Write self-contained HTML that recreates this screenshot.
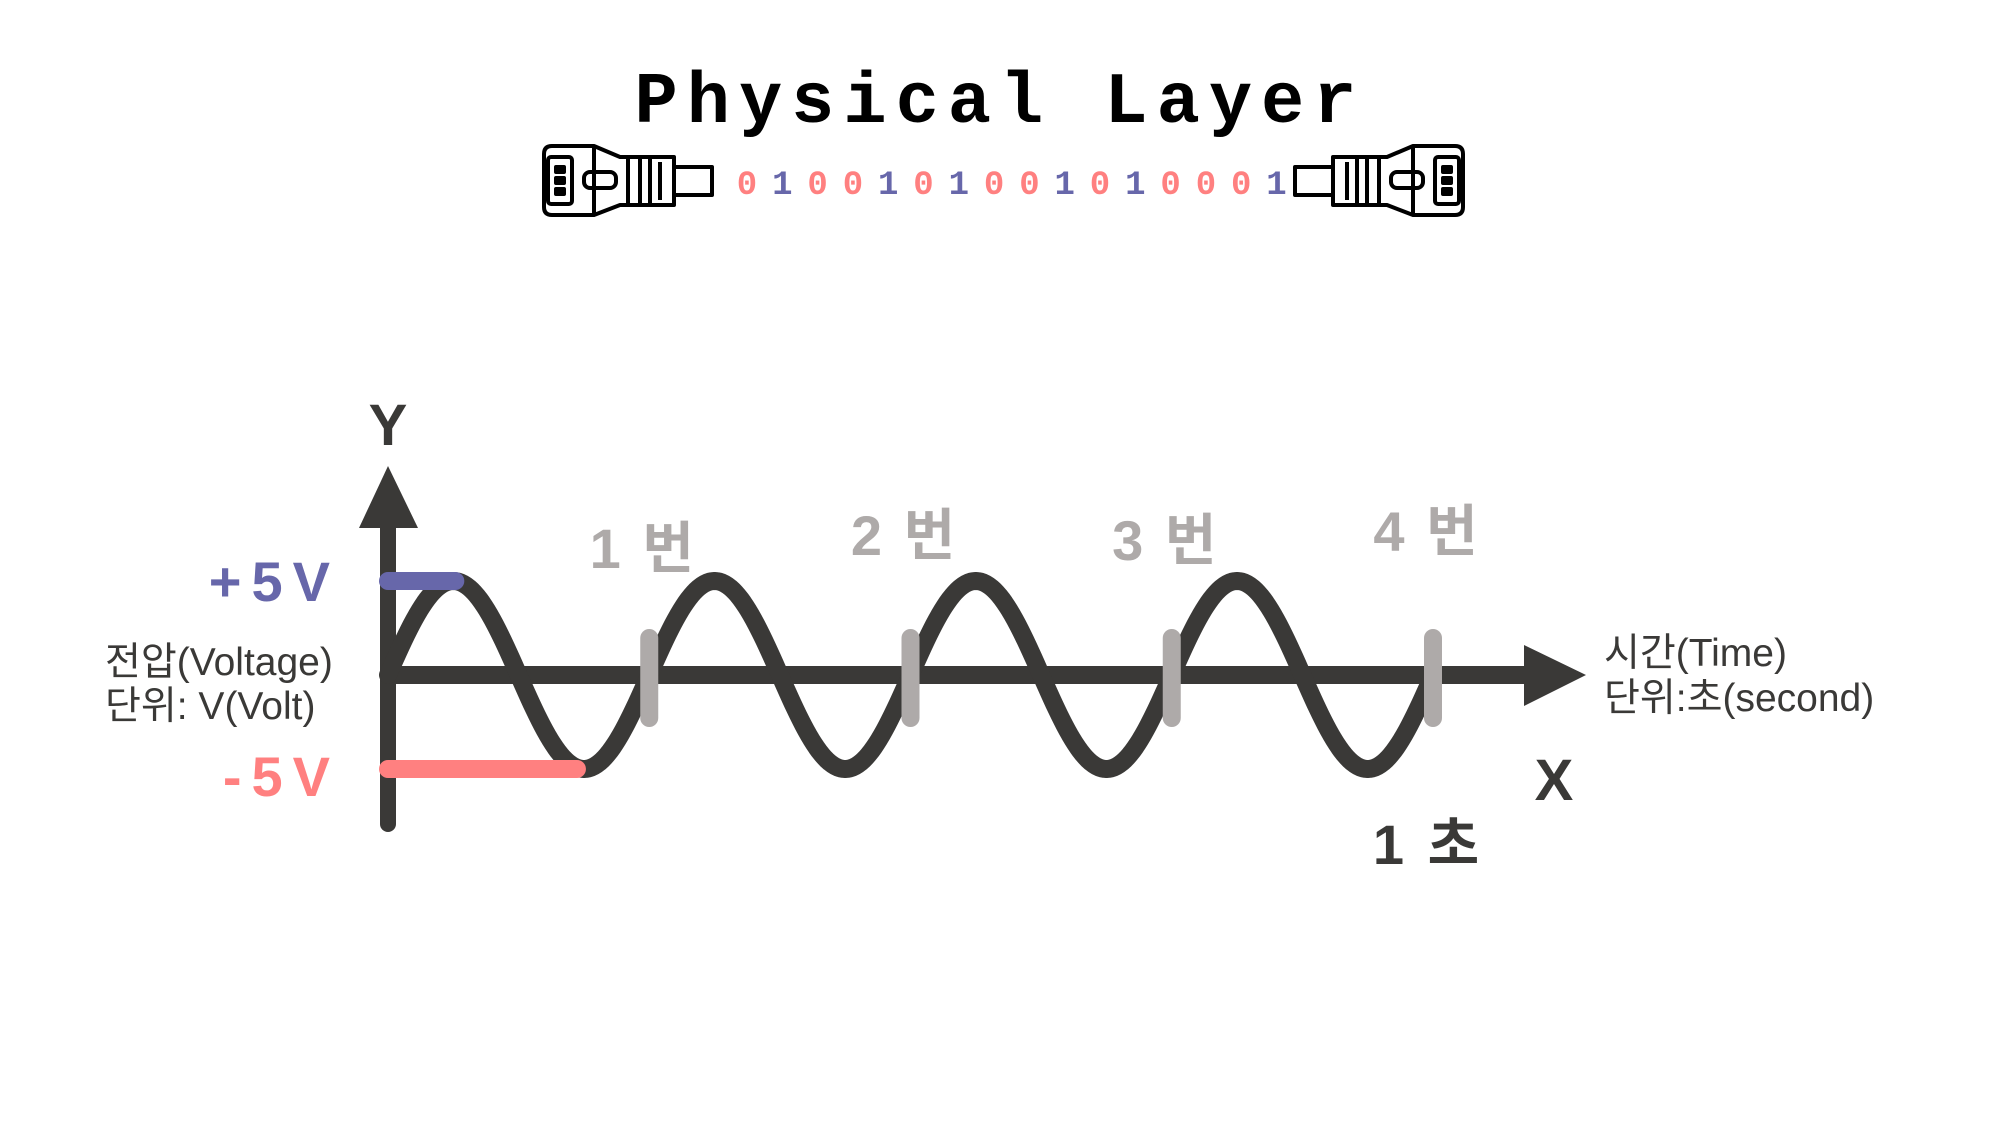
<!DOCTYPE html>
<html><head><meta charset="utf-8"><style>
html,body{margin:0;padding:0;background:#fff;}
svg{display:block;}
</style></head><body>
<svg id="chart" width="2000" height="1125" viewBox="0 0 2000 1125" xmlns="http://www.w3.org/2000/svg">
<text x="1000" y="122" text-anchor="middle" font-family="Liberation Mono, monospace" font-weight="bold" font-size="72" letter-spacing="9" fill="#000">Physical Layer</text>
<g id="conn-left" fill="none" stroke="#000" stroke-width="4" stroke-linejoin="round">
  <path d="M552 146 H594 L620 157 H628 V205 H620 L594 215 H552 Q544 215 544 207 V154 Q544 146 552 146 Z"/>
  <rect x="548" y="157" width="24" height="47" rx="3"/>
  <line x1="594" y1="146" x2="594" y2="215"/>
  <rect x="584" y="172" width="32" height="16" rx="6"/>
  <rect x="556" y="167" width="8" height="5" fill="#000"/>
  <rect x="556" y="178" width="8" height="5" fill="#000"/>
  <rect x="556" y="189" width="8" height="5" fill="#000"/>
  <rect x="628" y="157" width="46" height="48"/>
  <line x1="640" y1="157" x2="640" y2="205"/>
  <line x1="650" y1="157" x2="650" y2="205"/>
  <line x1="660" y1="162" x2="660" y2="200"/>
  <rect x="674" y="167" width="38" height="28"/>
</g>
<g transform="translate(2007,0) scale(-1,1)" fill="none" stroke="#000" stroke-width="4" stroke-linejoin="round">
  <path d="M552 146 H594 L620 157 H628 V205 H620 L594 215 H552 Q544 215 544 207 V154 Q544 146 552 146 Z"/>
  <rect x="548" y="157" width="24" height="47" rx="3"/>
  <line x1="594" y1="146" x2="594" y2="215"/>
  <rect x="584" y="172" width="32" height="16" rx="6"/>
  <rect x="556" y="167" width="8" height="5" fill="#000"/>
  <rect x="556" y="178" width="8" height="5" fill="#000"/>
  <rect x="556" y="189" width="8" height="5" fill="#000"/>
  <rect x="628" y="157" width="46" height="48"/>
  <line x1="640" y1="157" x2="640" y2="205"/>
  <line x1="650" y1="157" x2="650" y2="205"/>
  <line x1="660" y1="162" x2="660" y2="200"/>
  <rect x="674" y="167" width="38" height="28"/>
</g>
<g id="bits"></g>

<g id="plot"></g>

<text x="388" y="445" text-anchor="middle" font-family="Liberation Sans, sans-serif" font-weight="bold" font-size="58" fill="#3a3937">Y</text>
<text x="1554" y="800" text-anchor="middle" font-family="Liberation Sans, sans-serif" font-weight="bold" font-size="58" fill="#3a3937">X</text>
<text x="105" y="675" font-family="Liberation Sans, 'Noto Sans CJK KR', sans-serif" font-size="39" fill="#3a3937">전압(Voltage)</text>
<text x="105" y="719" font-family="Liberation Sans, 'Noto Sans CJK KR', sans-serif" font-size="39" fill="#3a3937">단위: V(Volt)</text>
<text x="1604" y="666" font-family="Liberation Sans, 'Noto Sans CJK KR', sans-serif" font-size="39" fill="#3a3937">시간(Time)</text>
<text x="1604" y="711" font-family="Liberation Sans, 'Noto Sans CJK KR', sans-serif" font-size="39" fill="#3a3937">단위:초(second)</text>
<text x="1428" y="864" text-anchor="middle" font-family="Liberation Sans, 'Noto Sans CJK KR', sans-serif" font-weight="bold" font-size="56" letter-spacing="4" fill="#3a3937">1 초</text>
</svg>
<script>
const bitValues = ['0','1','0','0','1','0','1','0','0','1','0','1','0','0','0','1'];
const voltLevels = [5, -5];
const voltLabels = ['+5V', '-5V'];
const markerTimes = [0.25, 0.5, 0.75, 1.0];
const markerLabels = ['1 번', '2 번', '3 번', '4 번'];
const cyclesPerSecond = [4];
const amplitudeVolts = [5];

const NS = 'http://www.w3.org/2000/svg';
const x0 = 388, x1 = 1433, yMid = 675, pxPerVolt = 94/5;
const xScale = t => x0 + t*(x1-x0);
const yScale = v => yMid - v*pxPerVolt;
function mk(tag, attrs, parent){const e=document.createElementNS(NS,tag);for(const k in attrs)e.setAttribute(k,attrs[k]);parent.appendChild(e);return e;}

const bits = document.getElementById('bits');
bitValues.forEach((b,i)=>{
  const t = mk('text',{x:747+i*35.3,y:194,'text-anchor':'middle','font-family':'Liberation Mono, monospace','font-weight':'bold','font-size':34,fill:b==='1'?'#6767aa':'#ff8080'},bits);
  t.textContent=b;
  
  
});

const plot = document.getElementById('plot');
let e = mk('line',{x1:388,y1:824,x2:388,y2:520,stroke:'#3a3937','stroke-width':16,'stroke-linecap':'round'},plot);


e = mk('polygon',{points:'388,466 359,528 418,528',fill:'#3a3937'},plot);


e = mk('line',{x1:388,y1:yMid,x2:1525,y2:yMid,stroke:'#3a3937','stroke-width':18},plot);


e = mk('polygon',{points:'1586,675 1524,645 1524,706',fill:'#3a3937'},plot);



let d='';
const N=400, f=cyclesPerSecond[0], A=amplitudeVolts[0];
for(let i=0;i<=N;i++){const t=i/N;d+=(i?'L':'M')+xScale(t).toFixed(2)+' '+yScale(A*Math.sin(2*Math.PI*f*t)).toFixed(2);}
e = mk('path',{d:d,fill:'none',stroke:'#3a3937','stroke-width':18,'stroke-linecap':'round','stroke-linejoin':'round'},plot);



const colors=['#6767aa','#ff8080'];
voltLevels.forEach((v,i)=>{
  const tPeak = (v>0?0.25:0.75)/f;
  const b = mk('line',{x1:388,y1:yScale(v),x2:xScale(tPeak)+(v>0?2:-7),y2:yScale(v),stroke:colors[i],'stroke-width':18,'stroke-linecap':'round'},plot);
  
  
  const t = mk('text',{x:340,y:yScale(v)+(v>0?20:27),'text-anchor':'end','font-family':'Liberation Sans, sans-serif','font-weight':'bold','font-size':56,'letter-spacing':10,fill:colors[i]},plot);
  t.textContent=voltLabels[i];
  
  
});

const labelY=[568,555,560,551];
markerTimes.forEach((t,i)=>{
  const x=xScale(t);
  const m = mk('line',{x1:x,y1:638,x2:x,y2:718,stroke:'#aeaaa9','stroke-width':18,'stroke-linecap':'round'},plot);
  
  
  const l = mk('text',{x:x-6,y:labelY[i],'text-anchor':'middle','font-family':'Liberation Sans, \'Noto Sans CJK KR\', sans-serif','font-weight':'bold','font-size':56,'letter-spacing':3,fill:'#aeaaa9'},plot);
  l.textContent=markerLabels[i];
  
  
});
</script>
</body></html>
